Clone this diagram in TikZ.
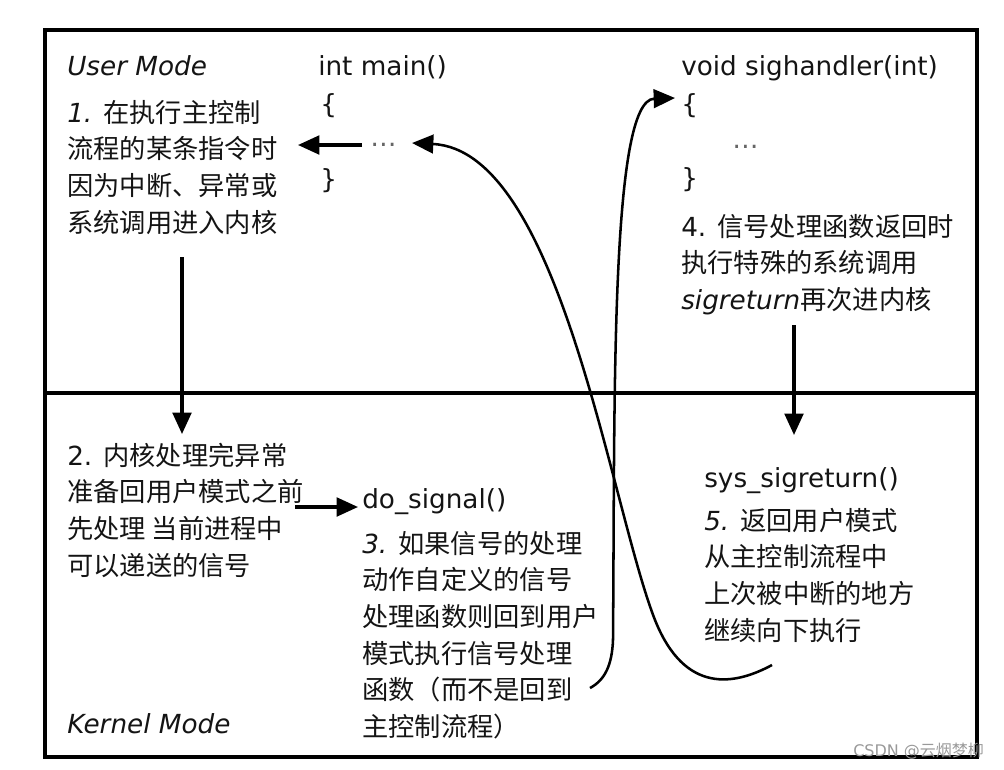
\documentclass[tikz,border=0pt]{standalone}
\usepackage{fontspec}
\setmainfont{DejaVu Sans}
\newfontfamily\cjk{Noto Sans CJK SC}
\usetikzlibrary{arrows.meta}
\newcommand\blk[1]{\vtop{\baselineskip=27.5pt\lineskiplimit=-50pt\lineskip=0pt #1}}
\newcommand\lline[1]{\hbox{#1}}
\begin{document}
\begin{tikzpicture}[x=0.75pt,y=-0.75pt,
  txt/.style={anchor=base west, inner sep=0pt, text=black!92, font=\fontsize{19.7}{27.5}\selectfont},
  arr/.style={line width=2.3pt, -{Triangle[length=16pt,width=14pt]}},
  crv/.style={line width=1.9pt, -{Triangle[length=16pt,width=14pt]}},
  frame/.style={line width=2.4pt}]
\useasboundingbox (0,0) rectangle (1004,769);
\draw[frame] (45,30) rectangle (977,757);
\draw[frame] (45,393) -- (977,393);
% user mode, main
\node[txt] (um) at (67,75) {\itshape User Mode};
\node[txt] (main) at (318,75) {int main()};
\node[txt] (mo) at (320,113) {\{};
\node[txt,text=black!60] (mdots) at (370,146) {…};
\node[txt] (mc) at (320,188) {\}};
\node[txt] (s1) at (67,122) {\blk{%
  \lline{{\itshape 1.} \cjk 在执行主控制}%
  \lline{\cjk 流程的某条指令时}%
  \lline{\cjk 因为中断、异常或}%
  \lline{\cjk 系统调用进入内核}}};
% sighandler
\node[txt] (sh) at (681,75) {void sighandler(int)};
\node[txt] (so) at (681,113) {\{};
\node[txt,text=black!60] (sdots) at (732,148) {…};
\node[txt] (sc) at (681,187) {\}};
\node[txt] (s4) at (681,236) {\blk{%
  \lline{4. \cjk 信号处理函数返回时}%
  \lline{\cjk 执行特殊的系统调用}%
  \lline{{\itshape sigreturn}\cjk 再次进内核}}};
% kernel
\node[txt] (s2) at (67,465) {\blk{%
  \lline{2. \cjk 内核处理完异常}%
  \lline{\cjk 准备回用户模式之前}%
  \lline{\cjk 先处理 当前进程中}%
  \lline{\cjk 可以递送的信号}}};
\node[txt] (ds) at (362,508) {do\_signal()};
\node[txt] (s3) at (362,553) {\blk{%
  \lline{{\itshape 3.} \cjk 如果信号的处理}%
  \lline{\cjk 动作自定义的信号}%
  \lline{\cjk 处理函数则回到用户}%
  \lline{\cjk 模式执行信号处理}%
  \lline{\cjk 函数（而不是回到}%
  \lline{\cjk 主控制流程）}}};
\node[txt] (ssr) at (704,487) {sys\_sigreturn()};
\node[txt] (s5) at (704,530) {\blk{%
  \lline{{\itshape 5.} \cjk 返回用户模式}%
  \lline{\cjk 从主控制流程中}%
  \lline{\cjk 上次被中断的地方}%
  \lline{\cjk 继续向下执行}}};
\node[txt] (km) at (67,733) {\itshape Kernel Mode};
\node[anchor=base west, inner sep=0pt, text=black!40, font=\fontsize{12}{14}\selectfont] (wm) at (853,756) {CSDN @\cjk 云烟梦柳};
% arrow coordinates
\coordinate (a1s) at (362,145); \coordinate (a1e) at (298,145);
\coordinate (a2s) at (182,257); \coordinate (a2e) at (182,434);
\coordinate (a3s) at (295,507); \coordinate (a3e) at (358,507);
\coordinate (a4s) at (794,325); \coordinate (a4e) at (794,435);
\coordinate (c1s) at (772,665); \coordinate (c1m) at (655,620); \coordinate (c1e) at (412,143);
\coordinate (c2s) at (590,688); \coordinate (c2m) at (613,640); \coordinate (c2e) at (675,98);
\draw[arr] (a1s) -- (a1e);
\draw[arr] (a2s) -- (a2e);
\draw[arr] (a3s) -- (a3e);
\draw[arr] (a4s) -- (a4e);
\draw[crv] (c1s) .. controls (735,685) and (685,695) .. (c1m) .. controls (610,505) and (560,150) .. (c1e);
\draw[crv] (c2s) .. controls (605,680) and (612,665) .. (c2m) .. controls (615,400) and (610,100) .. (c2e);
\end{tikzpicture}
\end{document}
